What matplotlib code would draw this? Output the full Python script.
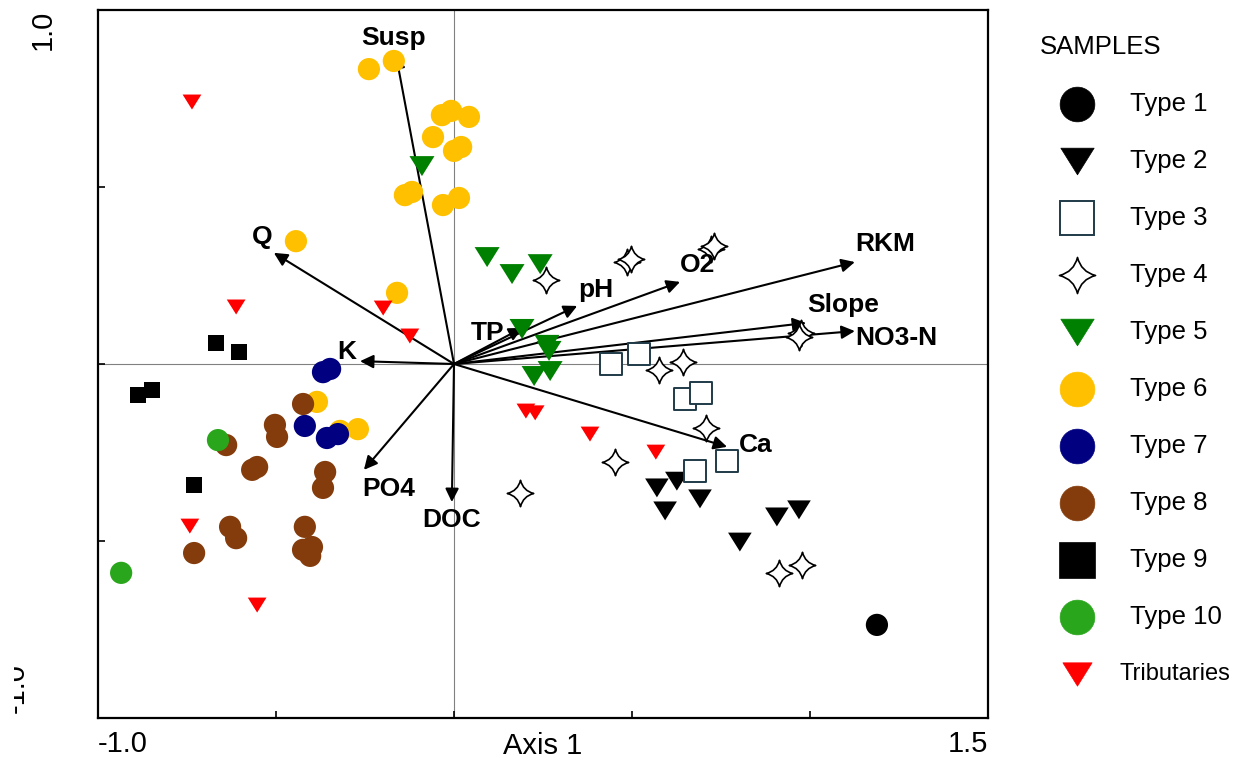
import matplotlib
matplotlib.use("Agg")
import matplotlib.pyplot as plt
from matplotlib.path import Path
from matplotlib.transforms import Bbox

plt.rcParams['font.family'] = ['Liberation Sans', 'DejaVu Sans']

# sample scores (axis 1, axis 2)
t1_x = [1.188]
t1_y = [-0.737]
t2_x = [0.570, 0.626, 0.691, 0.593, 0.803, 0.907, 0.969]
t2_y = [-0.350, -0.331, -0.381, -0.415, -0.503, -0.432, -0.412]
t3_x = [0.441, 0.520, 0.649, 0.694, 0.677, 0.767]
t3_y = [0.000, 0.028, -0.099, -0.082, -0.302, -0.274]
t4_x = [0.258, 0.486, 0.497, 0.722, 0.730, 0.975, 0.969, 0.576, 0.643, 0.708, 0.452, 0.185, 0.913, 0.978]
t4_y = [0.237, 0.288, 0.297, 0.325, 0.333, 0.088, 0.076, -0.017, 0.006, -0.181, -0.277, -0.364, -0.590, -0.568]
t5_x = [-0.090, 0.093, 0.163, 0.242, 0.191, 0.261, 0.267, 0.225, 0.270]
t5_y = [0.559, 0.302, 0.254, 0.282, 0.099, 0.054, 0.037, -0.034, -0.020]
t6_x = [-0.239, -0.169, -0.034, -0.008, 0.042, -0.059, 0.000, 0.020, -0.138, -0.118, -0.031, 0.014,
        -0.444, -0.160, -0.385, -0.320, -0.270]
t6_y = [0.833, 0.856, 0.703, 0.715, 0.698, 0.641, 0.602, 0.613, 0.477, 0.486, 0.449, 0.469,
        0.347, 0.201, -0.107, -0.189, -0.184]
t7_x = [-0.368, -0.348, -0.419, -0.357, -0.326]
t7_y = [-0.023, -0.014, -0.175, -0.209, -0.198]
t8_x = [-0.424, -0.503, -0.497, -0.640, -0.567, -0.553, -0.362, -0.368, -0.629, -0.612, -0.730,
        -0.419, -0.424, -0.399, -0.404]
t8_y = [-0.113, -0.172, -0.206, -0.229, -0.299, -0.291, -0.305, -0.350, -0.460, -0.492, -0.534,
        -0.460, -0.525, -0.517, -0.542]
t9_x = [-0.669, -0.604, -0.888, -0.848, -0.730]
t9_y = [0.059, 0.034, -0.088, -0.073, -0.342]
t10_x = [-0.663, -0.935]
t10_y = [-0.215, -0.590]
trib_x = [-0.736, -0.612, -0.199, -0.124, 0.202, 0.228, 0.382, 0.567, -0.742, -0.553]
trib_y = [0.740, 0.161, 0.158, 0.079, -0.133, -0.138, -0.198, -0.249, -0.458, -0.681]

# environmental variables (arrow tips)
env_names = ['Susp', 'Q', 'K', 'PO4', 'DOC', 'TP', 'pH', 'O2', 'RKM', 'Slope', 'NO3-N', 'Ca']
env_x = [-0.163, -0.506, -0.264, -0.253, -0.006, 0.192, 0.346, 0.635, 1.126, 0.989, 1.126, 0.767]
env_y = [0.873, 0.314, 0.008, -0.299, -0.390, 0.102, 0.164, 0.232, 0.288, 0.116, 0.093, -0.234]
# where each label sits
lab_x = [-0.171, -0.539, -0.301, -0.183, -0.006, 0.093, 0.399, 0.685, 1.211, 1.093, 1.242, 0.848]
lab_y = [0.921, 0.359, 0.034, -0.353, -0.441, 0.088, 0.209, 0.280, 0.339, 0.167, 0.073, -0.229]

legend_labels = ['Type 1', 'Type 2', 'Type 3', 'Type 4', 'Type 5', 'Type 6', 'Type 7',
                 'Type 8', 'Type 9', 'Type 10', 'Tributaries']

# marker shapes
tri = Path([(-1, 0.8), (1, 0.8), (0, -0.8), (-1, 0.8)],
           [Path.MOVETO, Path.LINETO, Path.LINETO, Path.CLOSEPOLY])
c = 0.2
star = Path([(0, 1), (c, c), (1, 0), (c, -c), (0, -1), (-c, -c), (-1, 0), (-c, c), (0, 1), (0, 1)],
            [Path.MOVETO] + [Path.CURVE3] * 8 + [Path.CLOSEPOLY])

# (x, y, marker, size, face, edge, lw, legend size)
groups = [
    (t1_x, t1_y, 'o', 16, 'black', 'none', 0, 25),
    (t2_x, t2_y, tri, 17, 'black', 'none', 0, 24),
    (t3_x, t3_y, 's', 16, 'white', '#1f3a48', 1.4, 24),
    (t4_x, t4_y, star, 19, 'white', 'black', 1.2, 26),
    (t5_x, t5_y, tri, 18, '#008000', 'none', 0, 24),
    (t6_x, t6_y, 'o', 16, '#FFC000', 'none', 0, 25),
    (t7_x, t7_y, 'o', 16, '#000080', 'none', 0, 25),
    (t8_x, t8_y, 'o', 16, '#843C0C', 'none', 0, 25),
    (t9_x, t9_y, 's', 11.5, 'black', 'none', 0, 26),
    (t10_x, t10_y, 'o', 16, '#2AA61C', 'none', 0, 25),
    (trib_x, trib_y, tri, 13.5, '#FF0000', 'none', 0, 21),
]

fig = plt.figure(figsize=(12.4, 7.6), dpi=100)
ax = fig.add_axes([98 / 1240, 1 - 718 / 760, 890 / 1240, 708 / 760])

ax.axhline(0, color='#808080', lw=0.8, zorder=1)
ax.axvline(0, color='#808080', lw=0.8, zorder=1)

for name, x, y, lx, ly in zip(env_names, env_x, env_y, lab_x, lab_y):
    ax.annotate('', xy=(x, y), xytext=(0, 0),
                arrowprops=dict(arrowstyle='-|>', color='black', lw=1.5,
                                mutation_scale=20, shrinkA=0, shrinkB=0),
                zorder=2)
    ax.text(lx, ly, name, ha='center', va='center', fontsize=19, fontweight='bold', zorder=5)

for x, y, m, ms, fc, ec, lw, _ in groups:
    ax.scatter(x, y, marker=m, s=ms ** 2, facecolors=fc, edgecolors=ec, linewidths=lw, zorder=3)

ax.set_xlim(-1.0, 1.5)
ax.set_ylim(-1.0, 1.0)
ax.set_xticks([-1.0, -0.5, 0, 0.5, 1.0, 1.5])
ax.set_xticklabels(['-1.0', '', '', '', '', '1.5'])
ax.set_yticks([-1.0, -0.5, 0, 0.5, 1.0])
ax.set_yticklabels(['', '', '', '', '1.0'], rotation=90)
ax.tick_params(direction='in', length=5, width=1.2, labelsize=21)
ax.tick_params(axis='x', pad=9)
ax.tick_params(axis='y', pad=29.5)
xl = ax.get_xticklabels()
xl[0].set_ha('left')
xl[-1].set_ha('right')
ax.get_yticklabels()[-1].set_va('top')
for s in ax.spines.values():
    s.set_linewidth(1.6)

ax.set_xlabel('Axis 1', fontsize=21)
ax.xaxis.set_label_coords(0.5, -0.02)

# the lower y label is half cut off in the original
low = fig.text(30 / 1240, 1 - 713 / 760, '-1.0', rotation=90, ha='right', va='bottom', fontsize=21)
low.set_clip_box(Bbox([[14, 0], [60, 760]]))
low.set_clip_on(True)

# legend drawn in its own axes, one row per group
lax = fig.add_axes([1030 / 1240, 0, 210 / 1240, 1])
lax.set_xlim(0, 210)
lax.set_ylim(760, 0)
lax.axis('off')
lax.text(10, 47, 'SAMPLES', ha='left', va='center', fontsize=18.5)
for i, (g, label) in enumerate(zip(groups, legend_labels)):
    x, y, m, ms, fc, ec, lw, lms = g
    row = 104 + 57 * i
    lax.plot(47, row, ls='none', marker=m, markersize=lms, markerfacecolor=fc,
             markeredgecolor=ec if ec != 'none' else fc, markeredgewidth=max(lw, 0.5))
    if label == 'Tributaries':
        lax.text(90, row, label, ha='left', va='center', fontsize=17)
    else:
        lax.text(100, row, label, ha='left', va='center', fontsize=18.5)

fig.savefig('out.png', dpi=100)
